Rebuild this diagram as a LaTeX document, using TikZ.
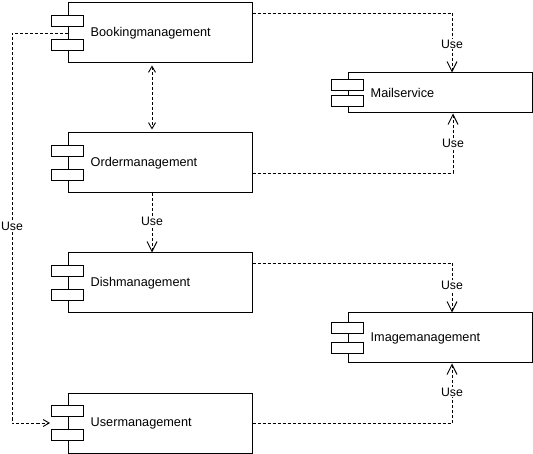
\documentclass[tikz,border=0pt]{standalone}
\usepackage{fontspec}
\setmainfont{Liberation Sans}
\usetikzlibrary{arrows.meta}
\begin{document}
\begin{tikzpicture}[x=1pt,y=-1pt,
  comp/.style={draw,line width=1pt,fill=white,minimum width=184pt,inner sep=0pt},
  tab/.style={draw,line width=1pt,fill=white,minimum width=32pt,minimum height=11.5pt,inner sep=0pt},
  lbl/.style={font=\fontsize{12.7}{14}\selectfont,anchor=west,inner sep=0pt},
  dep/.style={line width=0.9pt,dash pattern=on 3pt off 2pt},
  big/.style={-{Straight Barb[length=10pt,width=10pt,line width=0.9pt]}},
  small/.style={-{Straight Barb[length=6pt,width=7pt,line width=0.9pt]}},
  both/.style={{Straight Barb[length=6pt,width=7pt,line width=0.9pt]}-{Straight Barb[length=6pt,width=7pt,line width=0.9pt]}},
  use/.style={fill=white,inner sep=1pt,font=\fontsize{12.3}{14}\selectfont}]
\useasboundingbox (0,0) rectangle (533,454);
% components
\node[comp,minimum height=60pt] (B) at (160,33) {};
\node[comp,minimum height=60pt] (O) at (160,163) {};
\node[comp,minimum height=60pt] (D) at (160,283) {};
\node[comp,minimum height=60pt] (U) at (160,423) {};
\node[comp,minimum height=40pt] (M) at (440,93) {};
\node[comp,minimum height=50pt] (I) at (440,338) {};
% tabs
\foreach \n/\o in {B/12,O/12,D/12,U/12,M/8,I/10}{
  \node[tab] (\n t1) at ([yshift=-\o pt]\n.west) {};
  \node[tab] (\n t2) at ([yshift=\o pt]\n.west) {};
}
% labels
\node[lbl] (Bl) at ([xshift=23pt]B.west) {Bookingmanagement};
\node[lbl] (Ol) at ([xshift=23pt]O.west) {Ordermanagement};
\node[lbl] (Dl) at ([xshift=23pt]D.west) {Dishmanagement};
\node[lbl] (Ul) at ([xshift=23pt]U.west) {Usermanagement};
\node[lbl] (Ml) at ([xshift=23pt]M.west) {Mailservice};
\node[lbl] (Il) at ([xshift=23pt]I.west) {Imagemanagement};
% connectors
\draw[dep,big] ([yshift=20pt]B.east) -| ([xshift=12pt]M.north)
  node[use,pos=0.76] (u1) {Use};
\draw[dep,big] ([yshift=-10pt]O.east) -| ([xshift=13pt]M.south)
  node[use,pos=0.75] (u2) {Use};
\draw[dep,both] ([xshift=-8pt,yshift=-2pt]B.south) -- ([xshift=-8pt,yshift=3pt]O.north);
\draw[dep,big] ([xshift=-8pt]O.south) -- ([xshift=-8pt]D.north)
  node[use,pos=0.47] (u3) {Use};
\draw[dep,big] ([yshift=20pt]D.east) -| ([xshift=12pt]I.north)
  node[use,pos=0.73] (u4) {Use};
\draw[dep,big] (U.east) -| ([xshift=12pt]I.south)
  node[use,pos=0.76] (u5) {Use};
\coordinate (lx) at (12,33);
\coordinate (ly) at (12,423);
\draw[dep,small] (B.west) -- (lx) -- (ly) -- ([xshift=-1pt]U.west -| Ut1.west);
\node[use] (u6) at (12,226) {Use};
\end{tikzpicture}
\end{document}
